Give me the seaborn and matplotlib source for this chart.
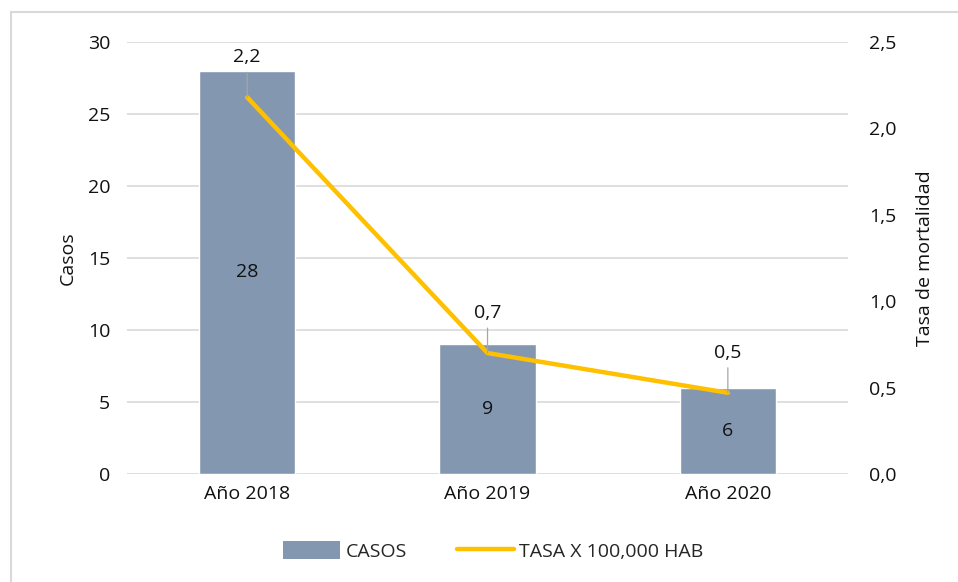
import matplotlib
matplotlib.use("Agg")
import matplotlib.pyplot as plt
import seaborn as sns
import pandas as pd
import numpy as np
from matplotlib.lines import Line2D
from matplotlib.patches import Patch

categorias = ["Año 2018", "Año 2019", "Año 2020"]
casos = [28, 9, 6]
tasa = [2.18, 0.70, 0.47]
tasa_etiquetas = ["2,2", "0,7", "0,5"]
ticks_izq = [0, 5, 10, 15, 20, 25, 30]
ticks_der = [0.0, 0.5, 1.0, 1.5, 2.0, 2.5]

sns.set_theme(style="white")
plt.rcParams["font.family"] = ["Open Sans", "DejaVu Sans"]

FS = 14
TXT = "#111111"

df = pd.DataFrame({"cat": categorias, "casos": casos, "tasa": tasa})

fig = plt.figure(figsize=(9.58, 5.82), dpi=100)
ax = fig.add_axes([0.1326, 0.1856, 0.7526, 0.7422])

sns.barplot(data=df, x="cat", y="casos", color="#8497B0", saturation=1,
            width=0.4, ax=ax, zorder=2)
ax.set_ylim(0, 30)
ax.set_xlim(-0.5, 2.5)
ax.set_yticks(ticks_izq)
ax.set_yticklabels([str(t) for t in ticks_izq])
ax.yaxis.grid(True, color="#D9D9D9", linewidth=1.2, zorder=0)
ax.set_axisbelow(True)
for s in ax.spines.values():
    s.set_visible(False)
ax.tick_params(axis="both", length=0, labelsize=FS, colors=TXT)
ax.tick_params(axis="y", pad=12)
ax.tick_params(axis="x", pad=8)
ax.set_xlabel("")
ax.set_ylabel("Casos", fontsize=FS, color=TXT, labelpad=8)

for i, v in enumerate(casos):
    ax.text(i, v / 2, str(v), ha="center", va="center", fontsize=FS, color=TXT)

ax2 = ax.twinx()
sns.lineplot(data=df, x="cat", y="tasa", color="#FFC000", linewidth=3.2,
             ax=ax2, sort=False, zorder=3)
ax2.set_ylim(0, 2.5)
ax2.set_yticks(ticks_der)
ax2.set_yticklabels([f"{t:.1f}".replace(".", ",") for t in ticks_der])
for s in ax2.spines.values():
    s.set_visible(False)
ax2.tick_params(axis="y", length=0, labelsize=FS, colors=TXT, pad=15)
ax2.set_ylabel("Tasa de mortalidad", fontsize=FS, color=TXT, labelpad=14)
ax2.grid(False)

for i, (v, lab) in enumerate(zip(tasa, tasa_etiquetas)):
    ax2.annotate(lab, xy=(i, v), xytext=(0, 40), textcoords="offset pixels",
                 ha="center", va="center", fontsize=FS, color=TXT,
                 arrowprops=dict(arrowstyle="-", color="#A6A6A6", lw=0.9,
                                 shrinkA=2, shrinkB=0))

handles = [Patch(facecolor="#8497B0", edgecolor="none"),
           Line2D([0], [0], color="#FFC000", linewidth=3.2)]
fig.legend(handles, ["CASOS", "TASA X 100,000 HAB"], loc="center",
           bbox_to_anchor=(0.515, 0.053), ncol=2, frameon=False, fontsize=FS,
           handlelength=2.9, handleheight=1.0, columnspacing=2.6, handletextpad=0.3)

# outer border (left and top edges visible)
fig.add_artist(Line2D([0.0115, 0.0115], [0.0, 0.979], transform=fig.transFigure,
                      color="#D9D9D9", linewidth=1.5))
fig.add_artist(Line2D([0.0115, 1.0], [0.979, 0.979], transform=fig.transFigure,
                      color="#D9D9D9", linewidth=1.5))

fig.savefig("out.png", dpi=100)
